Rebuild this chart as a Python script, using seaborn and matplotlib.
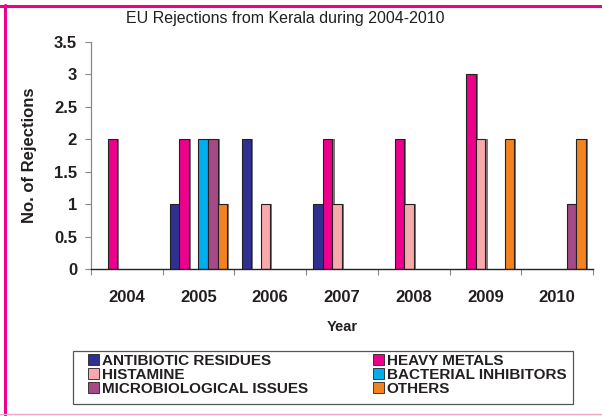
import matplotlib
matplotlib.use("Agg")
import matplotlib.pyplot as plt
import matplotlib.patheffects as pe
from matplotlib.patches import Patch, Rectangle
from matplotlib.lines import Line2D
import numpy as np
import pandas as pd
import seaborn as sns

years = ["2004", "2005", "2006", "2007", "2008", "2009", "2010"]
categories = ["ANTIBIOTIC RESIDUES", "HEAVY METALS", "HISTAMINE",
              "BACTERIAL INHIBITORS", "MICROBIOLOGICAL ISSUES", "OTHERS"]
antibiotic_residues = [0, 1, 2, 1, 0, 0, 0]
heavy_metals = [2, 2, 0, 2, 2, 3, 0]
histamine = [0, 0, 1, 1, 1, 2, 0]
bacterial_inhibitors = [0, 2, 0, 0, 0, 0, 0]
microbiological_issues = [0, 2, 0, 0, 0, 0, 1]
others = [0, 1, 0, 0, 0, 2, 2]
colors = ["#2E3192", "#EC008C", "#F7A9AB", "#00AEEF", "#A54A86", "#F58220"]

series = [antibiotic_residues, heavy_metals, histamine,
          bacterial_inhibitors, microbiological_issues, others]
df = pd.DataFrame([
    {"Year": y, "Category": c, "Rejections": v}
    for c, vals in zip(categories, series)
    for y, v in zip(years, vals)
])

sns.set_style("white")
plt.rcParams["font.family"] = ["Liberation Sans", "DejaVu Sans"]
text_color = "#231f20"
W, H = 602, 416

fig = plt.figure(figsize=(6.02, 4.16), dpi=100)
ax = fig.add_axes([0.151, 0.3534, 0.834, 0.5456])

sns.barplot(data=df, x="Year", y="Rejections", hue="Category",
            order=years, hue_order=categories, palette=colors,
            width=0.8, edgecolor="#222222", linewidth=0.8,
            legend=False, ax=ax, saturation=1)

shadow = [pe.SimplePatchShadow(offset=(1.6, 0), shadow_rgbFace="#7a7a7a", alpha=1.0),
          pe.Normal()]
for p in ax.patches:
    if p.get_height() == 0:
        p.set_visible(False)
    else:
        p.set_path_effects(shadow)

ax.set_xlim(-0.5, len(years) - 0.5)
ax.set_ylim(0, 3.5)
ax.set_yticks(np.arange(0, 3.51, 0.5))
ax.set_yticklabels(["0", "0.5", "1", "1.5", "2", "2.5", "3", "3.5"])
ax.set_xticks(range(len(years)))
ax.set_xticklabels(years)
ax.set_xticks(np.arange(-0.5, len(years), 1.0), minor=True)

ax.tick_params(axis="x", which="major", length=0, pad=15, labelsize=12)
ax.tick_params(axis="x", which="minor", length=4, width=0.8,
               color="#888888", direction="out", bottom=True)
ax.tick_params(axis="y", which="major", length=4, width=0.8,
               color="#888888", direction="out", left=True,
               labelsize=12, pad=6)
for lab in ax.get_yticklabels() + ax.get_xticklabels():
    lab.set_fontweight("bold")
    lab.set_color(text_color)

for s in ["top", "right"]:
    ax.spines[s].set_visible(False)
ax.spines["left"].set_color("#888888")
ax.spines["left"].set_linewidth(0.9)
ax.spines["bottom"].set_color("#222222")
ax.spines["bottom"].set_linewidth(1.0)

ax.set_xlabel("Year", fontsize=10.5, fontweight="bold", color=text_color, labelpad=11)
ax.set_ylabel("No. of Rejections", fontsize=12, fontweight="bold",
              color=text_color, labelpad=12)
fig.text(285 / W, 1 - 19 / H, "EU Rejections from Kerala during 2004-2010",
         fontsize=11.5, color=text_color, ha="center", va="center")

# legend box frame
fig.add_artist(Rectangle((73 / W, 1 - 404 / H), 500 / W, 53 / H,
                         transform=fig.transFigure, facecolor="none",
                         edgecolor="#555555", linewidth=0.9))

# legend entries: column-wise fill gives the two-column layout
leg_order = [0, 2, 4, 1, 3, 5]
handles = [Patch(facecolor=colors[i], edgecolor="#222222", linewidth=0.6,
                 label=categories[i]) for i in leg_order]
leg = fig.legend(handles=handles, loc="upper left",
                 bbox_to_anchor=(88 / W, 1 - 354 / H),
                 ncol=2, frameon=False, borderaxespad=0, borderpad=0,
                 prop={"weight": "bold", "size": 11},
                 handlelength=0.7, handleheight=0.7, handletextpad=0.2,
                 labelspacing=0.0, columnspacing=4.25)
for t in leg.get_texts():
    t.set_color(text_color)

# page frame lines
fig.add_artist(Line2D([0, 1], [1 - 5.5 / H] * 2, color="#EC008C", lw=2.2,
                      transform=fig.transFigure))
fig.add_artist(Line2D([5 / W] * 2, [0, 1 - 4.5 / H], color="#EC008C", lw=2.2,
                      transform=fig.transFigure))
fig.add_artist(Line2D([0, 1], [2 / H] * 2, color="#F4A6D0", lw=1.0,
                      transform=fig.transFigure))

fig.savefig("out.png", dpi=100)
